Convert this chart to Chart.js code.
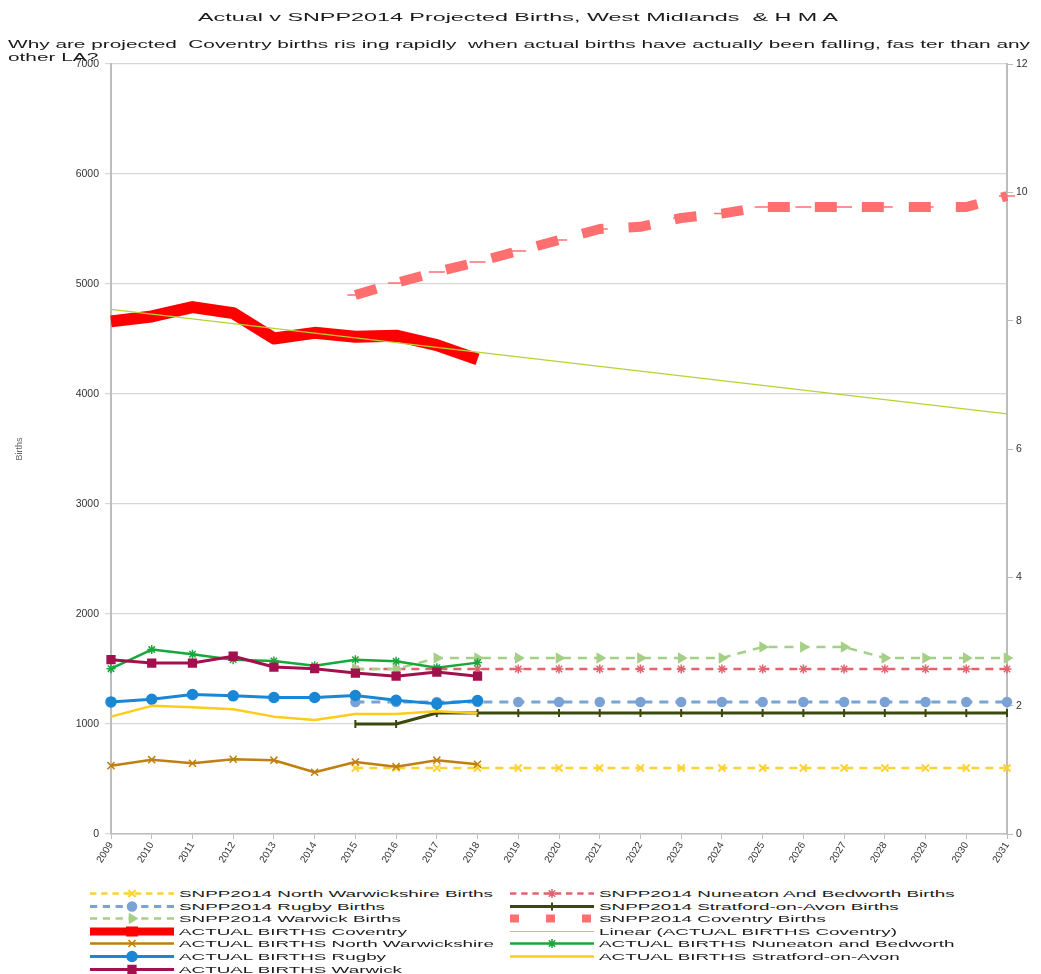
<!DOCTYPE html>
<html lang="en">
<head>
<meta charset="UTF-8">
<title>Actual v SNPP2014 Projected Births</title>
<script src="https://cdn.jsdelivr.net/npm/chart.js@4.4.0/dist/chart.umd.min.js"></script>
<style>
    body { margin: 0; background: #fff; font-family: "Liberation Sans", Arial, sans-serif; }
    #page { position: relative; width: 1041px; height: 974px; overflow: hidden; }
    #chartBox { position: absolute; left: 0; top: 0; width: 1041px; height: 880px; }
    .txt { position: absolute; white-space: nowrap; transform-origin: left top; color: #1a1a1a; display: inline-block; }
    #title { top: 11px; left: 198px; font-size: 11.5px; }
    #sub1 { top: 38px; left: 8px; font-size: 11px; }
    #sub2 { top: 51px; left: 8px; font-size: 11px; }
    #legend { position: absolute; left: 0; top: 887px; width: 1041px; }
    .item { position: absolute; height: 13px; }
    .item canvas { position: absolute; left: 0; top: 0; }
    .item span { position: absolute; left: 91px; top: 0; font-size: 9.5px; line-height: 13px; white-space: nowrap; transform-origin: left center; color: #1a1a1a; }
</style>
</head>
<body>
<div id="page">
    <div id="chartBox"><canvas id="birthsChart"></canvas></div>
    <span class="txt" id="title">Actual v SNPP2014 Projected Births, West Midlands &nbsp;&amp; H M A</span>
    <span class="txt" id="sub1">Why are projected &nbsp;Coventry births ris ing rapidly &nbsp;when actual births have actually been falling, fas ter than any</span>
    <span class="txt" id="sub2">other LA?</span>
    <div id="legend"></div>
</div>

<script>
    // categories
    const years = ['2009', '2010', '2011', '2012', '2013', '2014', '2015', '2016', '2017', '2018', '2019', '2020',
        '2021', '2022', '2023', '2024', '2025', '2026', '2027', '2028', '2029', '2030', '2031'];

    // projected births (SNPP2014), start in 2015
    const snppNorthWarks = [null, null, null, null, null, null, 600, 600, 600, 600, 600, 600, 600, 600, 600, 600, 600, 600, 600, 600, 600, 600, 600];
    const snppNuneaton = [null, null, null, null, null, null, 1500, 1500, 1500, 1500, 1500, 1500, 1500, 1500, 1500, 1500, 1500, 1500, 1500, 1500, 1500, 1500, 1500];
    const snppRugby = [null, null, null, null, null, null, 1200, 1200, 1200, 1200, 1200, 1200, 1200, 1200, 1200, 1200, 1200, 1200, 1200, 1200, 1200, 1200, 1200];
    const snppStratford = [null, null, null, null, null, null, 1000, 1000, 1100, 1100, 1100, 1100, 1100, 1100, 1100, 1100, 1100, 1100, 1100, 1100, 1100, 1100, 1100];
    const snppWarwick = [null, null, null, null, null, null, 1500, 1500, 1600, 1600, 1600, 1600, 1600, 1600, 1600, 1600, 1700, 1700, 1700, 1600, 1600, 1600, 1600];
    const snppCoventry = [null, null, null, null, null, null, 4900, 5010, 5110, 5200, 5300, 5400, 5500, 5520, 5600, 5640, 5700, 5700, 5700, 5700, 5700, 5700, 5800];

    // actual births 2009-2018
    const actualCoventry = [4660, 4705, 4790, 4735, 4505, 4556, 4520, 4530, 4445, 4315];
    const actualNorthWarks = [621, 676, 643, 680, 671, 561, 655, 612, 671, 634];
    const actualNuneaton = [1503, 1677, 1634, 1585, 1573, 1530, 1585, 1570, 1512, 1558];
    const actualRugby = [1201, 1225, 1268, 1256, 1241, 1241, 1259, 1216, 1183, 1213];
    const actualStratford = [1067, 1165, 1152, 1134, 1067, 1037, 1091, 1091, 1116, 1097];
    const actualWarwick = [1585, 1554, 1554, 1616, 1518, 1503, 1463, 1435, 1472, 1435];

    // linear trend of actual Coventry births, read at both ends
    const trendCoventry = [4770, null, null, null, null, null, null, null, null, null, null, null,
        null, null, null, null, null, null, null, null, null, null, 3820];

    // axis ticks
    const leftTicks = [0, 1000, 2000, 3000, 4000, 5000, 6000, 7000];
    const rightTicks = [0, 2, 4, 6, 8, 10, 12];

    function line(label, data, color, width, dash, style, radius, extra) {
        return Object.assign({
            label: label,
            data: data,
            borderColor: color,
            backgroundColor: color,
            borderWidth: width,
            borderDash: dash,
            borderCapStyle: 'butt',
            borderJoinStyle: 'round',
            pointStyle: style,
            pointRadius: radius,
            pointBorderWidth: 1.5,
            pointBorderColor: color,
            pointBackgroundColor: color,
            tension: 0,
            yAxisID: 'y'
        }, extra || {});
    }

    const datasets = [
        line('SNPP2014 North Warwickshire Births', snppNorthWarks, '#ffd233', 2.5, [8, 6], 'crossRot', 5, { pointBorderWidth: 2 }),
        line('SNPP2014 Nuneaton And Bedworth Births', snppNuneaton, '#e2636f', 2.5, [8, 6], 'star', 4.5),
        line('SNPP2014 Rugby Births', snppRugby, '#7aa2d4', 3, [9, 7], 'circle', 4.5),
        line('SNPP2014 Stratford-on-Avon Births', snppStratford, '#3b4a0c', 3, [], 'line', 4, { pointRotation: 90, pointBorderWidth: 2 }),
        line('SNPP2014 Warwick Births', snppWarwick, '#a6cf86', 2.5, [9, 7], 'triangle', 5, { pointRotation: 90 }),
        line('SNPP2014 Coventry Births', snppCoventry, '#ff6f6f', 10, [22, 25], 'line', 8, { pointBorderWidth: 1.5 }),
        line('ACTUAL BIRTHS Coventry', actualCoventry, '#ff0000', 12, [], 'rect', 0),
        line('Linear (ACTUAL BIRTHS Coventry)', trendCoventry, '#b4d430', 1.2, [], 'circle', 0, { spanGaps: true }),
        line('ACTUAL BIRTHS North Warwickshire', actualNorthWarks, '#c07f10', 2.5, [], 'crossRot', 5, { pointBorderWidth: 1.5 }),
        line('ACTUAL BIRTHS Nuneaton and Bedworth', actualNuneaton, '#17a83a', 2.5, [], 'star', 4.5),
        line('ACTUAL BIRTHS Rugby', actualRugby, '#1a87d6', 3, [], 'circle', 5),
        line('ACTUAL BIRTHS Stratford-on-Avon', actualStratford, '#ffcc1a', 2.5, [], 'circle', 0),
        line('ACTUAL BIRTHS Warwick', actualWarwick, '#a3104e', 3, [], 'rect', 5.5)
    ];
    // later series sit on top, like the source spreadsheet
    datasets.forEach((ds, i) => { ds.order = datasets.length - i; });
    datasets[7].order = 0;

    const tickFont = { family: '"Liberation Sans", Arial, sans-serif', size: 10.5 };
    const plain = (v) => String(v);

    const ctx = document.getElementById('birthsChart').getContext('2d');
    const birthsChart = new Chart(ctx, {
        type: 'line',
        data: { labels: years, datasets: datasets },
        options: {
            responsive: true,
            maintainAspectRatio: false,
            animation: false,
            layout: { padding: { top: 64, left: 0, right: 0, bottom: 0 } },
            plugins: {
                legend: { display: false },
                tooltip: { enabled: false }
            },
            scales: {
                x: {
                    offset: false,
                    grid: { display: true, drawOnChartArea: false, drawTicks: true, tickLength: 5, color: '#bdbdbd' },
                    border: { color: '#bdbdbd', width: 1.5 },
                    ticks: { color: '#333', font: { family: tickFont.family, size: 10 }, minRotation: 58, maxRotation: 58, autoSkip: false, padding: 1 },
                    afterFit: (scale) => { scale.height = 46; }
                },
                y: {
                    position: 'left',
                    min: 0,
                    max: 7000,
                    afterBuildTicks: (scale) => { scale.ticks = leftTicks.map(v => ({ value: v })); },
                    grid: { color: '#d6d6d6', lineWidth: 1.2, tickLength: 6, drawTicks: true },
                    border: { color: '#bdbdbd', width: 2 },
                    ticks: { color: '#333', font: tickFont, padding: 6, callback: plain },
                    title: { display: true, text: 'Births', color: '#666', font: { family: tickFont.family, size: 9 }, padding: { top: 14, bottom: 0 } },
                    afterFit: (scale) => { scale.width = 111; }
                },
                y2: {
                    position: 'right',
                    min: 0,
                    max: 12,
                    afterBuildTicks: (scale) => { scale.ticks = rightTicks.map(v => ({ value: v })); },
                    grid: { drawOnChartArea: false, color: '#bdbdbd', tickLength: 6 },
                    border: { color: '#bdbdbd', width: 2 },
                    ticks: { color: '#333', font: tickFont, padding: 3, callback: plain },
                    afterFit: (scale) => { scale.width = 34; }
                }
            }
        }
    });

    // stretch the heading texts to the widths they have in the source picture
    function stretch(el, w) {
        const r = el.getBoundingClientRect();
        const s = w / r.width;
        el.style.transform = 'scaleX(' + s + ')';
        return s;
    }
    stretch(document.getElementById('title'), 640);
    const subScale = stretch(document.getElementById('sub1'), 1022);
    document.getElementById('sub2').style.transform = 'scaleX(' + subScale + ')';

    // two-column legend, row-major like the spreadsheet legend
    const legendBox = document.getElementById('legend');
    const colX = [88, 508];
    const rowH = 12.6;
    let legendScale = null;

    function drawMarker(c, ds, x, y) {
        if (!ds.pointRadius) return;
        c.save();
        c.setLineDash([]);
        c.strokeStyle = ds.pointBorderColor;
        c.fillStyle = ds.pointBackgroundColor;
        c.lineWidth = ds.pointBorderWidth;
        Chart.helpers.drawPoint(c, { pointStyle: ds.pointStyle, rotation: ds.pointRotation || 0, radius: ds.pointRadius, borderWidth: ds.pointBorderWidth }, x, y);
        c.restore();
    }

    datasets.forEach((ds, i) => {
        const item = document.createElement('div');
        item.className = 'item';
        item.style.left = colX[i % 2] + 'px';
        item.style.top = (Math.floor(i / 2) * rowH) + 'px';
        const cv = document.createElement('canvas');
        cv.width = 88;
        cv.height = 13;
        const c = cv.getContext('2d');
        c.strokeStyle = ds.borderColor;
        c.lineCap = 'butt';
        if (ds.label === 'SNPP2014 Coventry Births') {
            c.fillStyle = ds.borderColor;
            [2, 38, 74].forEach(x => c.fillRect(x, 2.5, 9, 8));
        } else {
            c.lineWidth = Math.min(ds.borderWidth, 8);
            c.setLineDash(ds.borderDash.map(v => v * 0.8));
            c.beginPath();
            c.moveTo(2, 6.5);
            c.lineTo(86, 6.5);
            c.stroke();
            if (ds.label === 'ACTUAL BIRTHS Coventry') {
                c.fillStyle = ds.borderColor;
                c.fillRect(38, 1.5, 12, 10);
            } else {
                drawMarker(c, ds, 44, 6.5);
            }
        }
        item.appendChild(cv);
        const sp = document.createElement('span');
        sp.textContent = ds.label;
        item.appendChild(sp);
        legendBox.appendChild(item);
        if (legendScale === null) {
            legendScale = 314 / sp.getBoundingClientRect().width;
        }
        sp.style.transform = 'scaleX(' + legendScale + ')';
    });
</script>
</body>
</html>
